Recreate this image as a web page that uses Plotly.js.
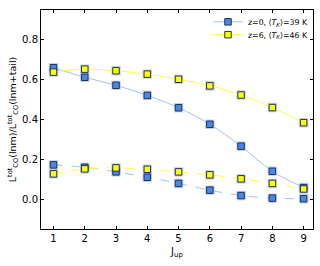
<!DOCTYPE html>
<html>
<head>
<meta charset="utf-8">
<script src="https://cdn.plot.ly/plotly-3.0.1.min.js"></script>
<style>html,body{margin:0;padding:0;background:#fff}#c{width:320px;height:266px}</style>
</head>
<body>
<div id="c"></div>
<script>
const jup = [1, 2, 3, 4, 5, 6, 7, 8, 9];
const blueSolid = [0.660, 0.612, 0.572, 0.521, 0.459, 0.376, 0.266, 0.140, 0.058];
const yellowSolid = [0.638, 0.653, 0.645, 0.628, 0.602, 0.569, 0.523, 0.460, 0.384];
const blueDashed = [0.172, 0.160, 0.137, 0.110, 0.079, 0.045, 0.018, 0.005, 0.002];
const yellowDashed = [0.127, 0.152, 0.157, 0.150, 0.137, 0.122, 0.102, 0.079, 0.051];
const names = ['z=0, \u27E8<i>T<sub>K</sub></i>\u27E9=39 K', 'z=6, \u27E8<i>T<sub>K</sub></i>\u27E9=46 K'];
const xTicks = [1, 2, 3, 4, 5, 6, 7, 8, 9];
const yTicks = [0.0, 0.2, 0.4, 0.6, 0.8];

const blueLine = '#a4c2f4', blueFill = '#4a86e8';
const yelLine = '#ffff44', yelFill = '#ffff00';
const edge = '#1c3560';

function halo(y) {
  return {x: jup, y: y, type: 'scatter', mode: 'markers', showlegend: false, hoverinfo: 'skip',
    marker: {symbol: 'square', size: 9.5, color: 'rgba(140,160,190,0.45)', line: {width: 0}}};
}
function tr(y, name, lc, fc, dash, show, leg) {
  return {x: jup, y: y, type: 'scatter', mode: 'lines+markers', name: name, showlegend: show, legend: leg,
    line: {color: lc, width: 1, dash: dash, shape: 'spline'},
    marker: {symbol: 'square', size: 6.5, color: fc, line: {color: edge, width: 1}}};
}
const data = [
  halo(blueSolid), halo(yellowSolid), halo(blueDashed), halo(yellowDashed),
  tr(blueSolid, names[0], blueLine, blueFill, 'solid', true, 'legend'),
  tr(yellowSolid, names[1], yelLine, yelFill, 'solid', true, 'legend2'),
  tr(blueDashed, names[0], blueLine, blueFill, 'dash', false, 'legend'),
  tr(yellowDashed, names[1], yelLine, yelFill, 'dash', false, 'legend2')
];

const legBase = {xanchor: 'right', yanchor: 'middle', bgcolor: 'rgba(0,0,0,0)', font: {size: 7.8}, itemwidth: 30};
const layout = {
  width: 320, height: 266,
  margin: {l: 41, r: 7, t: 7, b: 37},
  paper_bgcolor: '#fff', plot_bgcolor: '#fff',
  font: {family: 'DejaVu Sans', size: 10, color: '#000'},
  showlegend: true,
  legend: Object.assign({x: 1.0, y: (229 - 19) / 222}, legBase),
  legend2: Object.assign({x: 1.0, y: (229 - 32) / 222}, legBase),
  xaxis: {range: [0.6, 9.3], tickvals: xTicks, ticktext: xTicks.map(String),
    ticks: 'inside', ticklen: 3, tickcolor: '#000', mirror: 'allticks', showline: true, linecolor: '#000', linewidth: 1,
    showgrid: false, zeroline: false,
    title: {text: 'J<sub>up</sub>', font: {size: 10}, standoff: 4}},
  yaxis: {range: [-0.15, 0.95], tickvals: yTicks, ticktext: yTicks.map(v => v.toFixed(1)),
    ticks: 'inside', ticklen: 3, tickcolor: '#000', mirror: 'allticks', showline: true, linecolor: '#000', linewidth: 1,
    showgrid: false, zeroline: false,
    title: {text: 'L<sup>tot</sup><sub>CO</sub>(lnm)/L<sup>tot</sup><sub>CO</sub>(lnm+tail)', font: {size: 9.5}, standoff: 3}}
};
Plotly.newPlot('c', data, layout, {displayModeBar: false, staticPlot: true});
</script>
</body>
</html>
